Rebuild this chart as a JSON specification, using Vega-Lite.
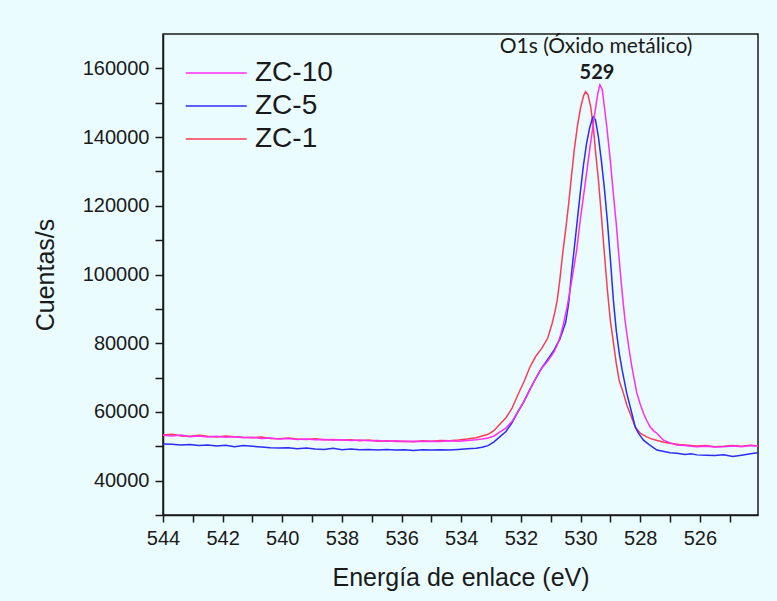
{
  "$schema": "https://vega.github.io/schema/vega-lite/v6.json",
  "width": 595,
  "height": 481,
  "autosize": {"type": "none"},
  "padding": {"left": 163, "top": 34, "right": 19, "bottom": 86},
  "background": "#EAFCFD",
  "config": {
    "view": {"stroke": "#1a1a1a", "strokeWidth": 1.5},
    "font": "Liberation Sans",
    "axis": {"domainColor": "#1a1a1a", "domainWidth": 1.5, "tickColor": "#1a1a1a", "tickWidth": 1.5, "labelColor": "#1a1a1a", "titleColor": "#1a1a1a", "grid": false, "labelFont": "Liberation Sans", "titleFont": "Liberation Sans", "titleFontWeight": "normal", "labelOverlap": false, "labelFlush": false}
  },
  "resolve": {"axis": {"x": "independent", "y": "independent"}},
  "layer": [
    {
      "data": {"values": [
        {"s":"ZC-1","e":544.0,"c":53300},{"s":"ZC-1","e":543.7,"c":53500},{"s":"ZC-1","e":543.4,"c":53000},{"s":"ZC-1","e":543.1,"c":52900},{"s":"ZC-1","e":542.8,"c":53200},{"s":"ZC-1","e":542.5,"c":52900},{"s":"ZC-1","e":542.2,"c":52700},{"s":"ZC-1","e":541.9,"c":53000},{"s":"ZC-1","e":541.6,"c":52800},{"s":"ZC-1","e":541.3,"c":52600},{"s":"ZC-1","e":541.0,"c":52500},{"s":"ZC-1","e":540.7,"c":52700},{"s":"ZC-1","e":540.4,"c":52300},{"s":"ZC-1","e":540.1,"c":52200},{"s":"ZC-1","e":539.8,"c":52400},{"s":"ZC-1","e":539.5,"c":52100},{"s":"ZC-1","e":539.2,"c":52000},{"s":"ZC-1","e":538.9,"c":52200},{"s":"ZC-1","e":538.6,"c":51900},{"s":"ZC-1","e":538.3,"c":52000},{"s":"ZC-1","e":538.0,"c":51800},{"s":"ZC-1","e":537.7,"c":51900},{"s":"ZC-1","e":537.4,"c":51600},{"s":"ZC-1","e":537.1,"c":51800},{"s":"ZC-1","e":536.8,"c":51500},{"s":"ZC-1","e":536.5,"c":51600},{"s":"ZC-1","e":536.2,"c":51400},{"s":"ZC-1","e":535.9,"c":51500},{"s":"ZC-1","e":535.6,"c":51300},{"s":"ZC-1","e":535.3,"c":51600},{"s":"ZC-1","e":535.0,"c":51500},{"s":"ZC-1","e":534.7,"c":51700},{"s":"ZC-1","e":534.4,"c":51600},{"s":"ZC-1","e":534.1,"c":51800},{"s":"ZC-1","e":533.8,"c":52100},{"s":"ZC-1","e":533.5,"c":52500},{"s":"ZC-1","e":533.3,"c":53000},{"s":"ZC-1","e":533.1,"c":53500},{"s":"ZC-1","e":532.9,"c":54600},{"s":"ZC-1","e":532.7,"c":56500},{"s":"ZC-1","e":532.5,"c":58300},{"s":"ZC-1","e":532.3,"c":61000},{"s":"ZC-1","e":532.1,"c":65000},{"s":"ZC-1","e":531.9,"c":68700},{"s":"ZC-1","e":531.7,"c":73000},{"s":"ZC-1","e":531.5,"c":76200},{"s":"ZC-1","e":531.3,"c":78500},{"s":"ZC-1","e":531.1,"c":81500},{"s":"ZC-1","e":530.95,"c":85800},{"s":"ZC-1","e":530.85,"c":89500},{"s":"ZC-1","e":530.78,"c":92600},{"s":"ZC-1","e":530.7,"c":98000},{"s":"ZC-1","e":530.6,"c":106000},{"s":"ZC-1","e":530.5,"c":113000},{"s":"ZC-1","e":530.4,"c":120500},{"s":"ZC-1","e":530.3,"c":129000},{"s":"ZC-1","e":530.2,"c":137000},{"s":"ZC-1","e":530.1,"c":143500},{"s":"ZC-1","e":530.0,"c":148500},{"s":"ZC-1","e":529.9,"c":152000},{"s":"ZC-1","e":529.83,"c":153200},{"s":"ZC-1","e":529.75,"c":152300},{"s":"ZC-1","e":529.66,"c":148800},{"s":"ZC-1","e":529.57,"c":143000},{"s":"ZC-1","e":529.5,"c":136000},{"s":"ZC-1","e":529.4,"c":127500},{"s":"ZC-1","e":529.3,"c":117000},{"s":"ZC-1","e":529.2,"c":106000},{"s":"ZC-1","e":529.1,"c":95500},{"s":"ZC-1","e":529.0,"c":86500},{"s":"ZC-1","e":528.9,"c":80300},{"s":"ZC-1","e":528.8,"c":74000},{"s":"ZC-1","e":528.7,"c":69000},{"s":"ZC-1","e":528.56,"c":65400},{"s":"ZC-1","e":528.45,"c":62000},{"s":"ZC-1","e":528.34,"c":59600},{"s":"ZC-1","e":528.17,"c":55700},{"s":"ZC-1","e":528.0,"c":53800},{"s":"ZC-1","e":527.8,"c":52800},{"s":"ZC-1","e":527.6,"c":52100},{"s":"ZC-1","e":527.4,"c":51600},{"s":"ZC-1","e":527.2,"c":51200},{"s":"ZC-1","e":527.0,"c":50900},{"s":"ZC-1","e":526.7,"c":50500},{"s":"ZC-1","e":526.4,"c":50300},{"s":"ZC-1","e":526.1,"c":50100},{"s":"ZC-1","e":525.8,"c":50200},{"s":"ZC-1","e":525.5,"c":49900},{"s":"ZC-1","e":525.2,"c":50000},{"s":"ZC-1","e":524.9,"c":50200},{"s":"ZC-1","e":524.6,"c":50000},{"s":"ZC-1","e":524.3,"c":50300},{"s":"ZC-1","e":524.05,"c":50100},

        {"s":"ZC-5","e":544.0,"c":50700},{"s":"ZC-5","e":543.7,"c":50600},{"s":"ZC-5","e":543.4,"c":50400},{"s":"ZC-5","e":543.1,"c":50500},{"s":"ZC-5","e":542.8,"c":50200},{"s":"ZC-5","e":542.5,"c":50400},{"s":"ZC-5","e":542.2,"c":50100},{"s":"ZC-5","e":541.9,"c":50300},{"s":"ZC-5","e":541.6,"c":49900},{"s":"ZC-5","e":541.3,"c":50200},{"s":"ZC-5","e":541.0,"c":50000},{"s":"ZC-5","e":540.7,"c":49800},{"s":"ZC-5","e":540.4,"c":49600},{"s":"ZC-5","e":540.1,"c":49500},{"s":"ZC-5","e":539.8,"c":49600},{"s":"ZC-5","e":539.5,"c":49300},{"s":"ZC-5","e":539.2,"c":49500},{"s":"ZC-5","e":538.9,"c":49200},{"s":"ZC-5","e":538.6,"c":49100},{"s":"ZC-5","e":538.3,"c":49400},{"s":"ZC-5","e":538.0,"c":49000},{"s":"ZC-5","e":537.7,"c":49200},{"s":"ZC-5","e":537.4,"c":49000},{"s":"ZC-5","e":537.1,"c":49100},{"s":"ZC-5","e":536.8,"c":48900},{"s":"ZC-5","e":536.5,"c":49100},{"s":"ZC-5","e":536.2,"c":48900},{"s":"ZC-5","e":535.9,"c":49000},{"s":"ZC-5","e":535.6,"c":48800},{"s":"ZC-5","e":535.3,"c":49000},{"s":"ZC-5","e":535.0,"c":48900},{"s":"ZC-5","e":534.7,"c":49000},{"s":"ZC-5","e":534.4,"c":48900},{"s":"ZC-5","e":534.1,"c":49100},{"s":"ZC-5","e":533.8,"c":49300},{"s":"ZC-5","e":533.5,"c":49400},{"s":"ZC-5","e":533.3,"c":49700},{"s":"ZC-5","e":533.1,"c":50200},{"s":"ZC-5","e":532.9,"c":51300},{"s":"ZC-5","e":532.7,"c":52800},{"s":"ZC-5","e":532.5,"c":54300},{"s":"ZC-5","e":532.3,"c":56800},{"s":"ZC-5","e":532.1,"c":60000},{"s":"ZC-5","e":531.9,"c":63000},{"s":"ZC-5","e":531.7,"c":66500},{"s":"ZC-5","e":531.5,"c":69800},{"s":"ZC-5","e":531.3,"c":72800},{"s":"ZC-5","e":531.1,"c":75300},{"s":"ZC-5","e":530.9,"c":77800},{"s":"ZC-5","e":530.8,"c":79500},{"s":"ZC-5","e":530.7,"c":81000},{"s":"ZC-5","e":530.6,"c":83500},{"s":"ZC-5","e":530.5,"c":86000},{"s":"ZC-5","e":530.4,"c":91500},{"s":"ZC-5","e":530.3,"c":100500},{"s":"ZC-5","e":530.2,"c":108500},{"s":"ZC-5","e":530.1,"c":116500},{"s":"ZC-5","e":530.0,"c":124500},{"s":"ZC-5","e":529.9,"c":132000},{"s":"ZC-5","e":529.8,"c":138000},{"s":"ZC-5","e":529.7,"c":142500},{"s":"ZC-5","e":529.6,"c":145500},{"s":"ZC-5","e":529.57,"c":145900},{"s":"ZC-5","e":529.5,"c":145000},{"s":"ZC-5","e":529.4,"c":140000},{"s":"ZC-5","e":529.3,"c":133000},{"s":"ZC-5","e":529.2,"c":125000},{"s":"ZC-5","e":529.1,"c":115500},{"s":"ZC-5","e":529.0,"c":104500},{"s":"ZC-5","e":528.9,"c":92600},{"s":"ZC-5","e":528.8,"c":83500},{"s":"ZC-5","e":528.7,"c":77000},{"s":"ZC-5","e":528.6,"c":72000},{"s":"ZC-5","e":528.45,"c":65400},{"s":"ZC-5","e":528.28,"c":59600},{"s":"ZC-5","e":528.17,"c":55700},{"s":"ZC-5","e":528.06,"c":53800},{"s":"ZC-5","e":527.89,"c":51800},{"s":"ZC-5","e":527.7,"c":50500},{"s":"ZC-5","e":527.44,"c":48900},{"s":"ZC-5","e":527.2,"c":48500},{"s":"ZC-5","e":527.0,"c":48100},{"s":"ZC-5","e":526.77,"c":48000},{"s":"ZC-5","e":526.5,"c":47600},{"s":"ZC-5","e":526.3,"c":47800},{"s":"ZC-5","e":526.1,"c":47500},{"s":"ZC-5","e":525.8,"c":47400},{"s":"ZC-5","e":525.5,"c":47300},{"s":"ZC-5","e":525.2,"c":47500},{"s":"ZC-5","e":524.9,"c":47000},{"s":"ZC-5","e":524.6,"c":47400},{"s":"ZC-5","e":524.3,"c":47800},{"s":"ZC-5","e":524.05,"c":48100},

        {"s":"ZC-10","e":544.0,"c":53200},{"s":"ZC-10","e":543.7,"c":53000},{"s":"ZC-10","e":543.4,"c":53300},{"s":"ZC-10","e":543.1,"c":52800},{"s":"ZC-10","e":542.8,"c":53000},{"s":"ZC-10","e":542.5,"c":52700},{"s":"ZC-10","e":542.2,"c":52900},{"s":"ZC-10","e":541.9,"c":52600},{"s":"ZC-10","e":541.6,"c":52800},{"s":"ZC-10","e":541.3,"c":52500},{"s":"ZC-10","e":541.0,"c":52600},{"s":"ZC-10","e":540.7,"c":52300},{"s":"ZC-10","e":540.4,"c":52400},{"s":"ZC-10","e":540.1,"c":52100},{"s":"ZC-10","e":539.8,"c":52300},{"s":"ZC-10","e":539.5,"c":52000},{"s":"ZC-10","e":539.2,"c":52100},{"s":"ZC-10","e":538.9,"c":51900},{"s":"ZC-10","e":538.6,"c":52000},{"s":"ZC-10","e":538.3,"c":51800},{"s":"ZC-10","e":538.0,"c":51900},{"s":"ZC-10","e":537.7,"c":51700},{"s":"ZC-10","e":537.4,"c":51800},{"s":"ZC-10","e":537.1,"c":51600},{"s":"ZC-10","e":536.8,"c":51700},{"s":"ZC-10","e":536.5,"c":51500},{"s":"ZC-10","e":536.2,"c":51600},{"s":"ZC-10","e":535.9,"c":51400},{"s":"ZC-10","e":535.6,"c":51500},{"s":"ZC-10","e":535.3,"c":51400},{"s":"ZC-10","e":535.0,"c":51500},{"s":"ZC-10","e":534.7,"c":51400},{"s":"ZC-10","e":534.4,"c":51600},{"s":"ZC-10","e":534.1,"c":51500},{"s":"ZC-10","e":533.8,"c":51700},{"s":"ZC-10","e":533.5,"c":51900},{"s":"ZC-10","e":533.3,"c":52100},{"s":"ZC-10","e":533.1,"c":52400},{"s":"ZC-10","e":532.9,"c":53000},{"s":"ZC-10","e":532.7,"c":54200},{"s":"ZC-10","e":532.5,"c":55300},{"s":"ZC-10","e":532.3,"c":57200},{"s":"ZC-10","e":532.1,"c":60100},{"s":"ZC-10","e":531.9,"c":63000},{"s":"ZC-10","e":531.7,"c":66500},{"s":"ZC-10","e":531.5,"c":69800},{"s":"ZC-10","e":531.3,"c":72800},{"s":"ZC-10","e":531.1,"c":74800},{"s":"ZC-10","e":530.9,"c":77300},{"s":"ZC-10","e":530.78,"c":79500},{"s":"ZC-10","e":530.68,"c":82000},{"s":"ZC-10","e":530.58,"c":85300},{"s":"ZC-10","e":530.44,"c":91000},{"s":"ZC-10","e":530.3,"c":98000},{"s":"ZC-10","e":530.13,"c":107100},{"s":"ZC-10","e":530.0,"c":116500},{"s":"ZC-10","e":529.85,"c":126000},{"s":"ZC-10","e":529.7,"c":136000},{"s":"ZC-10","e":529.57,"c":144000},{"s":"ZC-10","e":529.49,"c":148800},{"s":"ZC-10","e":529.42,"c":152800},{"s":"ZC-10","e":529.35,"c":155200},{"s":"ZC-10","e":529.27,"c":153800},{"s":"ZC-10","e":529.2,"c":148800},{"s":"ZC-10","e":529.12,"c":143000},{"s":"ZC-10","e":529.0,"c":133000},{"s":"ZC-10","e":528.9,"c":123500},{"s":"ZC-10","e":528.8,"c":114500},{"s":"ZC-10","e":528.73,"c":107100},{"s":"ZC-10","e":528.65,"c":99000},{"s":"ZC-10","e":528.58,"c":92600},{"s":"ZC-10","e":528.51,"c":86800},{"s":"ZC-10","e":528.45,"c":82900},{"s":"ZC-10","e":528.35,"c":77000},{"s":"ZC-10","e":528.28,"c":73200},{"s":"ZC-10","e":528.2,"c":69500},{"s":"ZC-10","e":528.11,"c":65400},{"s":"ZC-10","e":528.0,"c":62300},{"s":"ZC-10","e":527.89,"c":59600},{"s":"ZC-10","e":527.78,"c":57500},{"s":"ZC-10","e":527.67,"c":55700},{"s":"ZC-10","e":527.55,"c":54500},{"s":"ZC-10","e":527.44,"c":53800},{"s":"ZC-10","e":527.3,"c":52500},{"s":"ZC-10","e":527.22,"c":51800},{"s":"ZC-10","e":527.0,"c":51000},{"s":"ZC-10","e":526.77,"c":50400},{"s":"ZC-10","e":526.5,"c":50200},{"s":"ZC-10","e":526.3,"c":50000},{"s":"ZC-10","e":526.1,"c":49900},{"s":"ZC-10","e":525.8,"c":50000},{"s":"ZC-10","e":525.5,"c":49800},{"s":"ZC-10","e":525.2,"c":49900},{"s":"ZC-10","e":524.9,"c":50100},{"s":"ZC-10","e":524.6,"c":49900},{"s":"ZC-10","e":524.3,"c":50200},{"s":"ZC-10","e":524.05,"c":50100}
      ]},
      "mark": {"type": "line", "strokeWidth": 1.5, "clip": true},
      "encoding": {
        "x": {
          "field": "e", "type": "quantitative",
          "scale": {"domain": [524.05, 544], "reverse": true, "nice": false, "zero": false},
          "axis": {
            "orient": "bottom",
            "title": "Energía de enlace (eV)",
            "values": [544,542,540,538,536,534,532,530,528,526],
            "format": "d",
            "labelFontSize": 20, "labelPadding": 6, "tickSize": 7,
            "titleFontSize": 25, "titlePadding": 17
          }
        },
        "y": {
          "field": "c", "type": "quantitative",
          "scale": {"domain": [30000, 170000], "nice": false, "zero": false},
          "axis": {
            "orient": "left",
            "title": "Cuentas/s",
            "values": [40000,60000,80000,100000,120000,140000,160000],
            "format": "d",
            "labelFontSize": 20, "labelPadding": 6, "tickSize": 8,
            "titleFontSize": 25, "titlePadding": 24
          }
        },
        "color": {
          "field": "s", "type": "nominal",
          "scale": {"domain": ["ZC-10", "ZC-5", "ZC-1"], "range": ["#FF2EF0", "#2C2CF2", "#FF3A55"]},
          "legend": {
            "title": null, "orient": "none", "legendX": 23, "legendY": 25,
            "symbolType": "M-1.4,0H4.6", "symbolSize": 413, "symbolStrokeWidth": 1.5,
            "labelFontSize": 28, "labelFont": "Liberation Sans", "labelColor": "#1a1a1a",
            "labelOffset": 41, "rowPadding": 5, "padding": 0
          }
        }
      }
    },
    {
      "data": {"values": [{"t": "O1s (Óxido metálico)", "e": 529.48, "c": 166200}]},
      "mark": {"type": "text", "font": "Lato", "fontSize": 21, "color": "#1a1a1a", "baseline": "middle", "align": "center"},
      "encoding": {
        "x": {"field": "e", "type": "quantitative", "axis": {"orient": "bottom", "title": null, "labels": false, "domain": false, "tickSize": 7, "values": [543,541,539,537,535,533,531,529,527,525]}},
        "y": {"field": "c", "type": "quantitative", "axis": {"orient": "left", "title": null, "labels": false, "domain": false, "tickSize": 8, "values": [30000,50000,70000,90000,110000,130000,150000]}},
        "text": {"field": "t"}
      }
    },
    {
      "data": {"values": [{"t": "529", "e": 529.45, "c": 158700}]},
      "mark": {"type": "text", "font": "Lato", "fontSize": 20, "fontWeight": "bold", "color": "#1a1a1a", "baseline": "middle", "align": "center"},
      "encoding": {
        "x": {"field": "e", "type": "quantitative", "axis": null},
        "y": {"field": "c", "type": "quantitative", "axis": null},
        "text": {"field": "t"}
      }
    }
  ]
}
